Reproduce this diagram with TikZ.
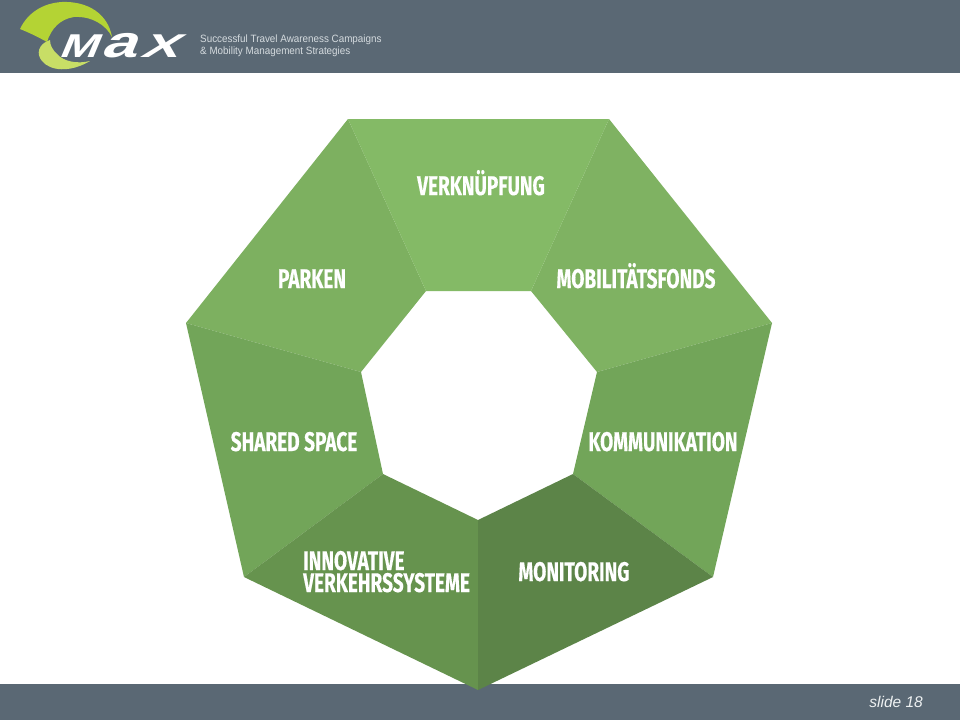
\documentclass[tikz,border=0pt]{standalone}
\usepackage{graphicx}
\usepackage{fontspec}
\setmainfont{Fira Sans}
\newfontfamily\labelfont[FakeStretch=0.705,FakeBold=0.3]{Fira Sans Bold}
\newfontfamily\arialfont{Liberation Sans}
\newfontfamily\tagfont[FakeStretch=0.93]{Liberation Sans}
\newfontfamily\logofont[FakeSlant=0.3]{Liberation Sans Bold}
\definecolor{barc}{HTML}{5A6874}
\definecolor{limec}{HTML}{B4D334}
\definecolor{limeb}{HTML}{C8DE66}
\definecolor{tagc}{HTML}{D5DBDF}
\definecolor{sa}{HTML}{84BA66}
\definecolor{sb}{HTML}{7FB262}
\definecolor{sc}{HTML}{72A559}
\definecolor{sd}{HTML}{5C8448}
\definecolor{se}{HTML}{66934E}
\definecolor{sf}{HTML}{72A559}
\definecolor{sg}{HTML}{7DB060}
\tikzset{
  seglabel/.style={text=white,font=\labelfont\fontsize{27}{22}\selectfont,align=left,inner sep=0pt,anchor=base},
  tagline/.style={text=tagc,font=\tagfont\fontsize{10.6}{11.5}\selectfont,align=left,inner sep=0pt},
}
\begin{document}
\begin{tikzpicture}[x=1pt,y=-1pt]
\useasboundingbox (0,0) rectangle (960,720);
\fill[white] (0,0) rectangle (960,720);
\fill[barc] (0,0) rectangle (960,73);
\fill[barc] (0,684) rectangle (960,720);
% outer and inner corners
\foreach \n/\x/\y in {o1/348/119,o2/609/119,o3/772/323,o4/713/577,o5/478/690,o6/244/577,o7/186/323,
  i1/426/291,i2/531/291,i3/597/372,i4/573/474,i5/478/520,i6/383/474,i7/361/372}
  \coordinate (\n) at (\x,\y);
\fill[sg] (o7)--(o1)--(i1)--(i7)--cycle;
\fill[sb] (o2)--(o3)--(i3)--(i2)--cycle;
\fill[sf] (o6)--(o7)--(i7)--(i6)--cycle;
\fill[sc] (o3)--(o4)--(i4)--(i3)--cycle;
\fill[se] (o5)--(o6)--(i6)--(i5)--cycle;
\fill[sd] (o4)--(o5)--(i5)--(i4)--cycle;
\fill[sa] (o1)--(o2)--(i2)--(i1)--cycle;
\node[seglabel] (verk) at (481,195) {VERKNÜPFUNG};
\node[seglabel] (park) at (312,288) {PARKEN};
\node[seglabel] (mobi) at (636,288) {MOBILITÄTSFONDS};
\node[seglabel] (shar) at (294,451) {SHARED SPACE};
\node[seglabel] (komm) at (663,451) {KOMMUNIKATION};
\node[seglabel,anchor=base west] (inno) at (303,592) {INNOVATIVE\\VERKEHRSSYSTEME};
\node[seglabel] (moni) at (574,581) {MONITORING};
\node[text=tagc!40!white,font=\arialfont\itshape\fontsize{15.5}{15.5}\selectfont,anchor=east,inner sep=0pt] (slide) at (923,702) {slide 18};
% logo
\fill[limeb] (50,40) .. controls (38,44) and (36,54) .. (42,61)
  .. controls (50,71) and (70,73) .. (90,61)
  .. controls (78,64) and (64,62) .. (57,54)
  .. controls (53,50) and (50,46) .. (50,40) -- cycle;
\fill[limec] (20,29) .. controls (28,12) and (44,3) .. (62,2)
  .. controls (88,1) and (108,14) .. (112,37)
  .. controls (106,25) and (92,16) .. (74,17)
  .. controls (60,19) and (51,29) .. (47,42)
  .. controls (40,38) and (30,33) .. (20,29) -- cycle;
\node[text=white,font=\logofont\fontsize{33}{33}\selectfont,inner sep=0pt,anchor=base west] (logo) at (58,57)
  {\scalebox{1.4}[1]{M}\kern4pt\scalebox{1.9}[1.36]{a}\kern4pt\scalebox{1.7}[1]{X}};
\node[tagline,anchor=west] (tag) at (200,46) {Successful Travel Awareness Campaigns\\\& Mobility Management Strategies};
\end{tikzpicture}
\end{document}
